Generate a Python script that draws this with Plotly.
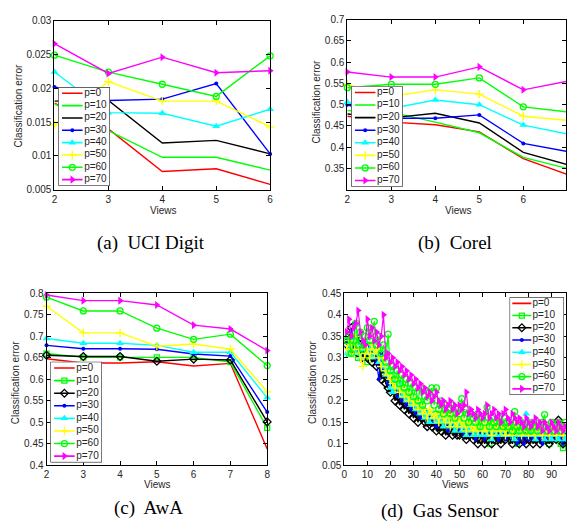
import plotly.graph_objects as go

W, H = 569, 529

p_labels = ["p=0", "p=10", "p=20", "p=30", "p=40", "p=50", "p=60", "p=70"]

# ---------------- (a) UCI Digit ----------------
uci_views = [2, 3, 4, 5, 6]
uci_err = [
    [0.0178, 0.0140, 0.0077, 0.0081, 0.0058],
    [0.0177, 0.0138, 0.0098, 0.0098, 0.0079],
    [0.0181, 0.0182, 0.0119, 0.0123, 0.0103],
    [0.0202, 0.0182, 0.0184, 0.0207, 0.0103],
    [0.0224, 0.0164, 0.0163, 0.0144, 0.0169],
    [0.0146, 0.0210, 0.0181, 0.0181, 0.0143],
    [0.0249, 0.0224, 0.0206, 0.0188, 0.0248],
    [0.0266, 0.0222, 0.0246, 0.0223, 0.0226],
]
uci_yticks = ["0.005", "0.01", "0.015", "0.02", "0.025", "0.03"]

# ---------------- (b) Corel ----------------
corel_views = [2, 3, 4, 5, 6, 7]
corel_err = [
    [0.473, 0.459, 0.453, 0.436, 0.373, 0.336],
    [0.486, 0.482, 0.459, 0.434, 0.376, 0.350],
    [0.478, 0.469, 0.480, 0.457, 0.388, 0.359],
    [0.500, 0.468, 0.468, 0.476, 0.409, 0.390],
    [0.506, 0.491, 0.511, 0.500, 0.452, 0.431],
    [0.548, 0.520, 0.535, 0.525, 0.473, 0.463],
    [0.540, 0.548, 0.548, 0.563, 0.495, 0.483],
    [0.577, 0.565, 0.565, 0.589, 0.535, 0.555],
]
corel_yticks = ["0.35", "0.4", "0.45", "0.5", "0.55", "0.6", "0.65", "0.7"]

# ---------------- (c) AwA ----------------
awa_views = [2, 3, 4, 5, 6, 7, 8]
awa_err = [
    [0.648, 0.638, 0.638, 0.641, 0.631, 0.637, 0.438],
    [0.660, 0.651, 0.651, 0.651, 0.651, 0.640, 0.487],
    [0.656, 0.653, 0.653, 0.642, 0.647, 0.645, 0.501],
    [0.679, 0.671, 0.671, 0.670, 0.659, 0.654, 0.524],
    [0.695, 0.684, 0.684, 0.679, 0.663, 0.663, 0.557],
    [0.770, 0.708, 0.708, 0.677, 0.682, 0.670, 0.571],
    [0.791, 0.759, 0.759, 0.719, 0.693, 0.705, 0.632],
    [0.796, 0.783, 0.783, 0.773, 0.726, 0.717, 0.667],
]
awa_yticks = ["0.4", "0.45", "0.5", "0.55", "0.6", "0.65", "0.7", "0.75", "0.8"]

# ---------------- (d) Gas Sensor ----------------
gas_views = list(range(1, 97))
gas_p0 = [.33, .35, .31, .34, .30, .33, .29, .32, .30, .31,
          .32, .29, .31, .28, .30, .26, .27, .24, .25, .22,
          .24, .21, .23, .20, .22, .19, .20, .18, .19, .17,
          .18, .16, .18, .15, .17, .15, .16, .14, .16, .14,
          .15, .13, .15, .14, .13, .15, .13, .14, .12, .14,
          .12, .13, .11, .13, .12, .11, .13, .11, .12, .10,
          .12, .11, .13, .11, .12, .10, .12, .11, .13, .11,
          .12, .10, .12, .11, .13, .11, .10, .12, .11, .12,
          .10, .12, .11, .13, .11, .10, .12, .11, .12, .10,
          .11, .12, .10, .11, .12, .10]
gas_p10 = [.34, .31, .35, .32, .33, .30, .34, .31, .33, .29,
           .33, .30, .32, .31, .29, .30, .27, .28, .25, .26,
           .23, .25, .22, .23, .21, .22, .20, .21, .18, .20,
           .17, .19, .16, .18, .17, .15, .17, .16, .15, .17,
           .14, .16, .15, .13, .16, .14, .15, .13, .14, .15,
           .13, .14, .12, .14, .13, .12, .14, .12, .13, .11,
           .13, .12, .10, .13, .12, .14, .11, .13, .12, .11,
           .13, .12, .11, .13, .10, .12, .13, .11, .12, .13,
           .11, .12, .14, .11, .12, .13, .11, .12, .10, .13,
           .12, .11, .13, .10, .09, .12]
gas_p20 = [.33, .35, .37, .32, .34, .31, .33, .30, .32, .30,
           .31, .29, .30, .28, .29, .25, .26, .24, .23, .22,
           .23, .20, .21, .19, .20, .18, .19, .17, .18, .16,
           .17, .15, .17, .16, .15, .14, .16, .14, .15, .13,
           .14, .13, .14, .12, .13, .14, .12, .13, .12, .12,
           .13, .12, .11, .12, .13, .11, .12, .10, .11, .12,
           .10, .11, .12, .10, .11, .12, .11, .10, .12, .11,
           .12, .11, .10, .12, .11, .10, .11, .12, .10, .11,
           .12, .10, .11, .12, .10, .11, .12, .11, .10, .11,
           .12, .11, .155, .12, .10, .11]
gas_p30 = [.34, .33, .36, .38, .33, .35, .32, .34, .31, .33,
           .32, .30, .33, .29, .25, .31, .27, .26, .24, .25,
           .22, .24, .21, .22, .20, .21, .19, .20, .18, .19,
           .17, .18, .16, .17, .18, .15, .16, .17, .15, .14,
           .15, .16, .14, .15, .13, .14, .15, .13, .14, .13,
           .14, .12, .13, .14, .12, .13, .11, .12, .13, .12,
           .11, .13, .12, .11, .13, .12, .11, .12, .13, .11,
           .12, .13, .11, .12, .10, .11, .13, .10, .12, .11,
           .12, .11, .13, .11, .12, .10, .11, .12, .11, .12,
           .13, .11, .12, .11, .10, .12]
gas_p40 = [.31, .33, .32, .34, .31, .33, .30, .32, .34, .31,
           .32, .30, .33, .31, .29, .30, .28, .26, .27, .23,
           .22, .25, .23, .24, .21, .22, .20, .21, .19, .20,
           .18, .19, .17, .18, .16, .17, .15, .17, .16, .15,
           .16, .15, .14, .16, .15, .14, .15, .13, .14, .15,
           .13, .14, .12, .13, .14, .12, .13, .12, .14, .12,
           .13, .12, .14, .11, .13, .12, .14, .12, .13, .12,
           .14, .12, .13, .11, .13, .12, .14, .12, .17, .12,
           .13, .12, .11, .13, .12, .14, .11, .13, .12, .11,
           .13, .12, .11, .13, .12, .11]
gas_p50 = [.32, .34, .33, .31, .35, .32, .30, .28, .31, .32,
           .30, .33, .31, .32, .30, .28, .30, .27, .26, .25,
           .24, .23, .25, .22, .23, .21, .22, .20, .21, .19,
           .20, .18, .19, .17, .18, .16, .18, .17, .16, .17,
           .15, .17, .16, .15, .17, .14, .16, .15, .14, .16,
           .14, .15, .13, .15, .14, .13, .14, .13, .15, .13,
           .14, .13, .15, .12, .14, .13, .15, .13, .14, .12,
           .14, .13, .12, .14, .13, .15, .12, .14, .13, .12,
           .14, .13, .12, .14, .13, .12, .15, .13, .12, .14,
           .13, .12, .14, .13, .12, .14]
gas_p60 = [.34, .35, .31, .34, .38, .33, .36, .32, .35, .37,
           .34, .36, .385, .33, .35, .31, .33, .29, .355, .27,
           .28, .25, .27, .24, .26, .23, .25, .22, .24, .21,
           .23, .20, .23, .19, .21, .20, .22, .23, .19, .23,
           .18, .20, .17, .19, .18, .17, .19, .16, .18, .17,
           .205, .16, .18, .15, .17, .16, .15, .17, .14, .16,
           .15, .185, .14, .16, .15, .14, .16, .15, .14, .16,
           .14, .15, .13, .175, .14, .13, .15, .14, .13, .15,
           .13, .14, .15, .13, .14, .15, .168, .13, .14, .15,
           .13, .14, .15, .13, .14, .15]
gas_p70 = [.36, .39, .35, .37, .38, .41, .36, .34, .33, .39,
           .35, .37, .34, .36, .33, .35, .40, .30, .31, .29,
           .30, .28, .29, .27, .28, .26, .27, .25, .26, .24,
           .25, .23, .24, .22, .23, .21, .22, .20, .21, .22,
           .20, .19, .20, .18, .19, .20, .18, .19, .17, .19,
           .18, .19, .22, .17, .18, .17, .16, .18, .17, .16,
           .17, .19, .16, .17, .18, .16, .17, .15, .17, .18,
           .16, .15, .17, .16, .15, .16, .15, .14, .16, .15,
           .14, .15, .16, .14, .15, .13, .15, .14, .13, .15,
           .14, .13, .15, .14, .13, .14]
gas_err = [gas_p0, gas_p10, gas_p20, gas_p30, gas_p40, gas_p50, gas_p60, gas_p70]
gas_xticks = [0, 10, 20, 30, 40, 50, 60, 70, 80, 90]
gas_yticks = ["0.05", "0.1", "0.15", "0.2", "0.25", "0.3", "0.35", "0.4", "0.45"]

# ---------------- styles ----------------
colors = ["#FF0000", "#00FF00", "#000000", "#0000FF",
          "#00FFFF", "#FFFF00", "#00FF00", "#FF00FF"]
sym_ab = [None, None, None, "circle", "triangle-up", "cross-thin", "circle-open", "triangle-right"]
sym_cd = [None, "square-open", "diamond-open", "circle", "triangle-up", "cross-thin",
          "circle-open", "triangle-right"]
sym_size = {"circle": 4, "triangle-up": 7, "cross-thin": 6, "circle-open": 6,
            "triangle-right": 7, "square-open": 5, "diamond-open": 6}

FONT = "Liberation Sans, Arial, sans-serif"
SERIF = "Liberation Serif, Times New Roman, serif"
TICKC = "#262626"


def marker_for(sym, col):
    if sym is None:
        return None
    open_like = sym.endswith("open") or sym == "cross-thin"
    return dict(symbol=sym, size=sym_size[sym], color=col,
                line=dict(color=col, width=1.3 if open_like else 0))


fig = go.Figure()

panels = [
    dict(x=uci_views, ys=uci_err, sym=sym_ab, box=(52, 15, 270, 188),
         xr=[2, 6], yr=[0.005, 0.03], xt=uci_views,
         yv=[float(t) for t in uci_yticks], ytt=uci_yticks, lw=1.4),
    dict(x=corel_views, ys=corel_err, sym=sym_ab, box=(348, 14, 569, 188),
         xr=[2, 6.97], yr=[0.3, 0.7], xt=corel_views,
         yv=[float(t) for t in corel_yticks], ytt=corel_yticks, lw=1.4),
    dict(x=awa_views, ys=awa_err, sym=sym_cd, box=(44, 294, 267, 470),
         xr=[2, 8], yr=[0.4, 0.8], xt=awa_views,
         yv=[float(t) for t in awa_yticks], ytt=awa_yticks, lw=1.4),
    dict(x=gas_views, ys=gas_err, sym=sym_cd, box=(345, 294, 569, 470),
         xr=[0, 96.3], yr=[0.05, 0.45], xt=gas_xticks,
         yv=[float(t) for t in gas_yticks], ytt=gas_yticks, lw=1.2),
]

layout_axes = {}
for i, p in enumerate(panels):
    n = i + 1
    xa = "x" if n == 1 else f"x{n}"
    ya = "y" if n == 1 else f"y{n}"
    l, t, r, b = p["box"]
    for k in range(8):
        fig.add_trace(go.Scatter(
            x=p["x"], y=p["ys"][k], xaxis=xa, yaxis=ya,
            mode="lines" if p["sym"][k] is None else "lines+markers",
            line=dict(color=colors[k], width=p["lw"]),
            marker=marker_for(p["sym"][k], colors[k]),
            name=p_labels[k], showlegend=False, cliponaxis=(n == 4),
        ))
    common = dict(showline=True, linecolor="black", linewidth=1, mirror="ticks",
                  ticks="inside", ticklen=4, tickcolor="black", showgrid=False,
                  zeroline=False, tickfont=dict(family=FONT, size=10, color=TICKC),
                  fixedrange=True)
    layout_axes[f"xaxis{'' if n == 1 else n}"] = dict(
        domain=[l / W, min(r / W, 1.0)], range=p["xr"], anchor=ya,
        tickvals=p["xt"], ticktext=[str(v) for v in p["xt"]], **common)
    layout_axes[f"yaxis{'' if n == 1 else n}"] = dict(
        domain=[1 - b / H, 1 - t / H], range=p["yr"], anchor=xa,
        tickvals=p["yv"], ticktext=p["ytt"], **common)

# ---------------- legends (boxes drawn in overlay subplots) ----------------
legend_boxes = [(56, 83, 108, 184), (352, 82, 404, 185),
                (48, 364, 100, 467), (512, 298, 567, 398)]
legend_syms = [sym_ab, sym_ab, sym_cd, sym_cd]
# (sample line start, sample line end, text start) as fractions of box width
legend_geom = [(0.07, 0.47, 0.5), (0.07, 0.47, 0.5), (0.07, 0.47, 0.5), (0.05, 0.40, 0.42)]
for j, (l, t, r, b) in enumerate(legend_boxes):
    n = 5 + j
    xa, ya = f"x{n}", f"y{n}"
    s0, s1, tx = legend_geom[j]
    layout_axes[f"xaxis{n}"] = dict(domain=[l / W, r / W], range=[0, 1], visible=False,
                                    anchor=ya, fixedrange=True)
    layout_axes[f"yaxis{n}"] = dict(domain=[1 - b / H, 1 - t / H], range=[0, 8],
                                    visible=False, anchor=xa, fixedrange=True)
    fig.add_trace(go.Scatter(x=[0, 1, 1, 0, 0], y=[0, 0, 8, 8, 0], xaxis=xa, yaxis=ya,
                             mode="lines", fill="toself", fillcolor="white",
                             line=dict(color="black", width=1), showlegend=False,
                             hoverinfo="skip", cliponaxis=False))
    for k in range(8):
        yk = 7.5 - k
        fig.add_trace(go.Scatter(x=[s0, s1], y=[yk, yk], xaxis=xa, yaxis=ya,
                                 mode="lines", line=dict(color=colors[k], width=1.6),
                                 showlegend=False, hoverinfo="skip", cliponaxis=False))
        mk = marker_for(legend_syms[j][k], colors[k])
        if mk is not None:
            fig.add_trace(go.Scatter(x=[(s0 + s1) / 2], y=[yk], xaxis=xa, yaxis=ya,
                                     mode="markers", marker=mk, showlegend=False,
                                     hoverinfo="skip", cliponaxis=False))
        fig.add_trace(go.Scatter(x=[tx], y=[yk], xaxis=xa, yaxis=ya, mode="text",
                                 text=[p_labels[k]], textposition="middle right",
                                 textfont=dict(family=FONT, size=10, color=TICKC),
                                 showlegend=False, hoverinfo="skip", cliponaxis=False))

# ---------------- text annotations ----------------
def ann(text, px, py, size=10, family=FONT, angle=0, color=TICKC):
    return dict(text=text, x=px / W, y=1 - py / H, xref="paper", yref="paper",
                xanchor="center", yanchor="middle", showarrow=False, textangle=angle,
                font=dict(family=family, size=size, color=color))

annotations = [
    ann("Views", 162, 209), ann("Views", 460, 209),
    ann("Views", 156, 490), ann("Views", 457, 490),
    ann("Classification error", 16, 102, angle=-90),
    ann("Classification error", 317, 98, angle=-90),
    ann("Classification error", 12, 385, angle=-90),
    ann("Classification error", 313, 385, angle=-90),
    ann("(a)  UCI Digit", 150, 242, size=19, family=SERIF, color="black"),
    ann("(b)  Corel", 457, 242, size=19, family=SERIF, color="black"),
    ann("(c)  AwA", 147, 514, size=19, family=SERIF, color="black"),
    ann("(d)  Gas Sensor", 442, 517, size=19, family=SERIF, color="black"),
]

fig.update_layout(width=W, height=H, margin=dict(l=0, r=0, t=0, b=0),
                  paper_bgcolor="white", plot_bgcolor="white",
                  showlegend=False, annotations=annotations, **layout_axes)

fig.write_html("out.html", config={"displayModeBar": False},
               post_script="document.body.style.margin='0';"
                           "document.body.style.overflow='hidden';")
